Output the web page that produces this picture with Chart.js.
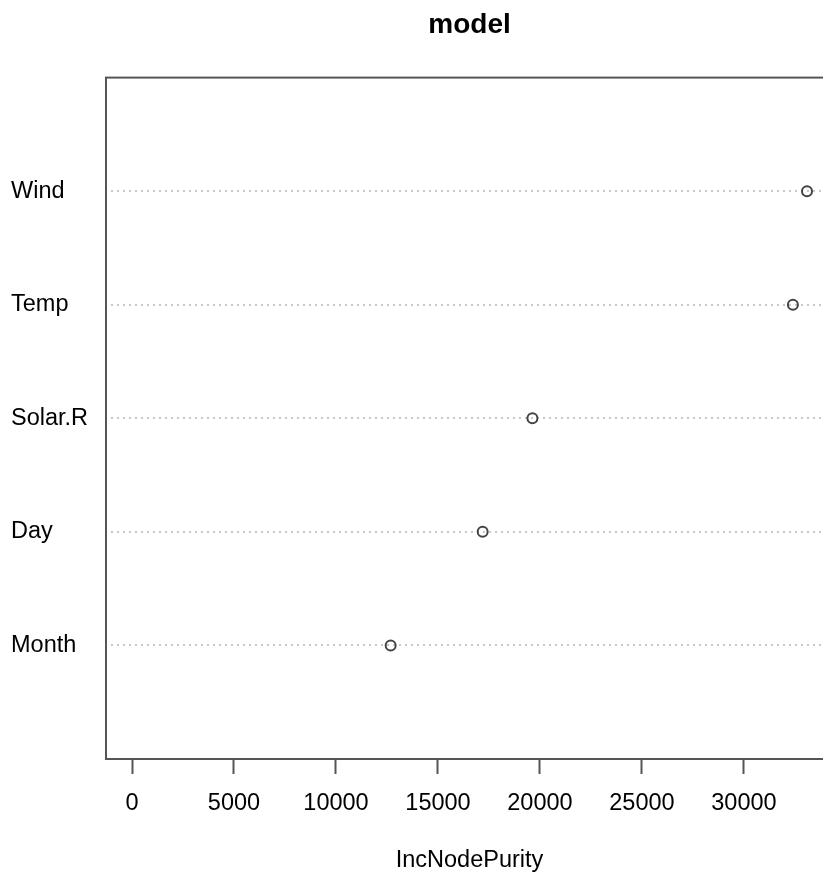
<!DOCTYPE html>
<html>
<head>
<meta charset="utf-8">
<script src="https://cdn.jsdelivr.net/npm/chart.js@4"></script>
<style>
  html, body { margin: 0; padding: 0; background: #fff; overflow: hidden; }
  #wrap { width: 841px; height: 872px; }
</style>
</head>
<body>
<div id="wrap"><canvas id="c" width="841" height="872"></canvas></div>
<script>
// Variables (bottom to top, as in the plot)
const categories = ['Month', 'Day', 'Solar.R', 'Temp', 'Wind'];
const positions = [1, 2, 3, 4, 5];
const incNodePurity = [12680, 17190, 19630, 32400, 33090];
const xTicks = [0, 5000, 10000, 15000, 20000, 25000, 30000];
const xMin = -1324, xMax = 34414;
const yMin = 0, yMax = 6;

const FONT = "'Liberation Sans', Arial, Helvetica, sans-serif";

const framePlugin = {
  id: 'frame',
  afterDraw(chart) {
    const a = chart.chartArea, ctx = chart.ctx;
    ctx.save();
    ctx.strokeStyle = '#555';
    ctx.lineWidth = 2;
    ctx.strokeRect(a.left + 1, a.top, a.right - a.left + 10, a.bottom - a.top);
    ctx.restore();
  }
};

new Chart(document.getElementById('c'), {
  type: 'scatter',
  data: {
    datasets: [{
      data: incNodePurity.map((v, i) => ({ x: v, y: positions[i] })),
      pointStyle: 'circle',
      pointRadius: 5,
      pointHoverRadius: 5,
      pointBorderWidth: 2,
      pointBorderColor: '#444',
      pointBackgroundColor: 'rgba(0,0,0,0)'
    }]
  },
  options: {
    responsive: false,
    animation: false,
    events: [],
    layout: { padding: { left: 11, right: 0, top: 0, bottom: 0 } },
    plugins: {
      legend: { display: false },
      tooltip: { enabled: false },
      title: {
        display: true,
        text: 'model',
        fullSize: false,
        color: '#000',
        font: { family: FONT, size: 28, weight: 'bold', lineHeight: 1.2 },
        padding: { top: 8, bottom: 36 }
      }
    },
    scales: {
      x: {
        type: 'linear',
        min: xMin,
        max: xMax,
        afterBuildTicks: s => { s.ticks = xTicks.map(v => ({ value: v })); },
        afterFit: s => { s.height = 113; s.paddingLeft = 0; s.paddingRight = 0; },
        grid: {
          drawOnChartArea: false,
          drawTicks: true,
          tickLength: 15,
          tickWidth: 2,
          tickColor: '#555'
        },
        border: { display: false },
        ticks: {
          color: '#000',
          padding: 15,
          maxRotation: 0,
          font: { family: FONT, size: 23.5 },
          callback: v => String(v)
        },
        title: {
          display: true,
          text: 'IncNodePurity',
          color: '#000',
          font: { family: FONT, size: 23.5, lineHeight: 1.0 },
          padding: { top: 0, bottom: 0 }
        }
      },
      y: {
        type: 'linear',
        min: yMin,
        max: yMax,
        afterBuildTicks: s => { s.ticks = positions.map(v => ({ value: v })); },
        afterFit: s => { s.width = 94; },
        grid: {
          drawTicks: false,
          color: '#c8c8c8',
          lineWidth: 2
        },
        border: { display: false, dash: [2, 4], dashOffset: 0 },
        ticks: {
          crossAlign: 'far',
          color: '#000',
          font: { family: FONT, size: 23.5 },
          callback: v => categories[positions.indexOf(v)] || ''
        }
      }
    }
  },
  plugins: [framePlugin]
});
</script>
</body>
</html>
